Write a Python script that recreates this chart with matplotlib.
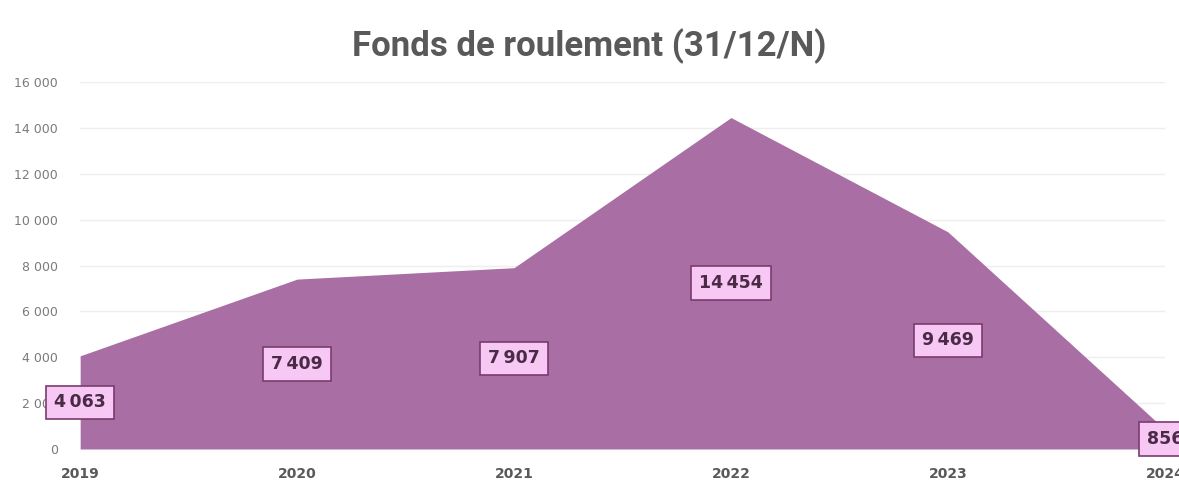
import matplotlib.pyplot as plt
import numpy as np

# Chart data
years = ["2019", "2020", "2021", "2022", "2023", "2024"]
values = [4063, 7409, 7907, 14454, 9469, 856]
labels = ["4\u202f063", "7\u202f409", "7\u202f907", "14\u202f454", "9\u202f469", "856"]

area_color = "#a96fa4"
box_face = "#f6c8f3"
box_edge = "#7a3b70"
text_dark = "#4b2a47"

fig = plt.figure(figsize=(11.79, 4.83), dpi=100)
ax = fig.add_axes([0.068, 0.0704, 0.92, 0.7596])

x = np.arange(len(years))
ax.fill_between(x, values, 0, color=area_color, linewidth=0, zorder=2)

ax.set_xlim(0, len(years) - 1)
ax.set_ylim(0, 16000)
ax.set_yticks(np.arange(0, 16001, 2000))
ax.set_yticklabels([f"{v:,}".replace(",", " ") for v in range(0, 16001, 2000)])
ax.set_xticks(x)
ax.set_xticklabels(years)

ax.grid(axis="y", color="#eeeeee", linewidth=1, zorder=0)
for s in ax.spines.values():
    s.set_visible(False)
ax.tick_params(axis="y", length=0, pad=16, labelsize=9, labelcolor="#7a7a7a")
ax.tick_params(axis="x", length=0, pad=13, labelsize=10, labelcolor="#595959")
for t in ax.get_xticklabels():
    t.set_fontweight("bold")

# value labels, centred at half height like Excel
for xi, v, lab in zip(x, values, labels):
    ax.text(xi, v / 2, lab, ha="center", va="center", fontsize=12.5,
            fontweight="bold", color=text_dark, zorder=5, clip_on=False,
            bbox=dict(boxstyle="square,pad=0.45", fc=box_face, ec=box_edge, lw=1.2))

fig.text(0.5, 0.905, "Fonds de roulement (31/12/N)", ha="center", va="center",
         fontsize=25, fontweight="bold", color="#595959", family="Roboto")

fig.savefig("out.png", dpi=100)
